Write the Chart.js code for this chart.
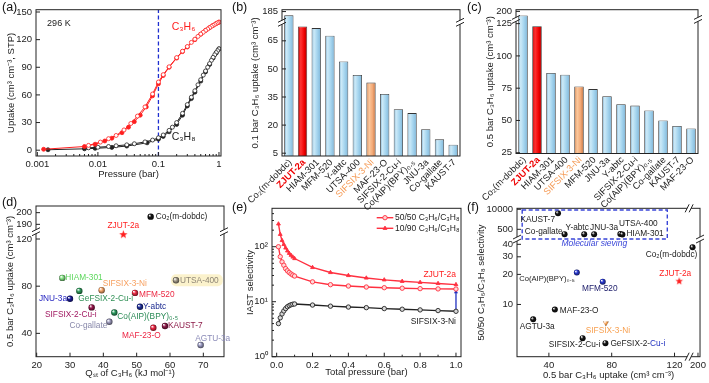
<!DOCTYPE html>
<html>
<head>
<meta charset="utf-8">
<script src="https://cdn.jsdelivr.net/npm/chart.js@4.4.1/dist/chart.umd.min.js"></script>
<style>
html, body { margin: 0; padding: 0; background: #fff; width: 709px; height: 383px; overflow: hidden; }
canvas { position: absolute; left: 0; top: 0; }
.tag { position: absolute; font: 12.5px 'Liberation Sans', Arial, sans-serif; color: #111; }
</style>
</head>
<body>
<canvas id="pa" width="709" height="383"></canvas>
<canvas id="pb" width="709" height="383"></canvas>
<canvas id="pc" width="709" height="383"></canvas>
<canvas id="pd" width="709" height="383"></canvas>
<canvas id="pe" width="709" height="383"></canvas>
<canvas id="pf" width="709" height="383"></canvas>
<div class="tag" style="left:2px;top:0px">(a)</div>
<div class="tag" style="left:232px;top:0px">(b)</div>
<div class="tag" style="left:467px;top:0px">(c)</div>
<div class="tag" style="left:2px;top:195px">(d)</div>
<div class="tag" style="left:232px;top:200px">(e)</div>
<div class="tag" style="left:467px;top:200px">(f)</div>
<script>
// (a) C3H6 / C3H8 isotherms, 296 K
const aAdsP6 = [0.00127,0.006,0.009,0.013,0.017,0.025,0.032,0.04,0.05,0.063,0.08,0.1,0.12,0.15,0.2,0.25,0.3,0.4,0.5,0.6,0.7,0.8,0.9,1.0];
const aAds6  = [1,4,6.5,10,13,19,25,31,38,47,59,72,81,90,100,107,112,120,126,130,133,135.5,137.5,139];
const aDesP6 = [1.0,0.95,0.9,0.85,0.8,0.75,0.7,0.65,0.6,0.55,0.5,0.45,0.4,0.35,0.3,0.25,0.2,0.15,0.12,0.1,0.08,0.06,0.045,0.035,0.027,0.02,0.015,0.011,0.007];
const aDes6  = [139,138.3,137.5,136.5,135.5,134.3,133,131.5,130,128,126,123.5,120.5,117,112.5,107.5,100.5,90.5,82,74,61,47,37,29,22,16,12.5,8.8,5.2];
const aAdsP8 = [0.0015,0.006,0.009,0.017,0.03,0.065,0.1,0.12,0.15,0.2,0.25,0.3,0.35,0.4,0.5,0.6,0.7,0.8,0.9,1.0];
const aAds8  = [0.5,1.5,2,3,4.5,8,12,15,20,28,38,48,56,63,75,85,93,100,105.5,110];
const aDesP8 = [1.0,0.95,0.9,0.85,0.8,0.75,0.7,0.65,0.6,0.55,0.5,0.45,0.4,0.35,0.3,0.25,0.2,0.17,0.15,0.12,0.1,0.08,0.06,0.04,0.03,0.02,0.015,0.01,0.007];
const aDes8  = [110,108,106,103.5,100.8,97.5,94,90,86,81.5,76.5,71,64.5,57.5,49.5,40,30,25,21.5,16.5,13.5,11,9,7,5.8,4.8,4,3.2,2.6];
const aXTicks = [0.001,0.01,0.1,1];
const aYTicks = [0,30,60,90,120,150];

// (b) 0.1 bar C3H6 uptake
const bNames = ['Co₂(m-dobdc)','ZJUT-2a','HIAM-301','MFM-520','Y-abtc','UTSA-400','SIFSIX-3-Ni','MAF-23-O','SIFSIX-2-Cu-i','Co(AIP)(BPY)₀.₅','JNU-3a','Co-gallate','KAUST-7'];
const bUptake = [183,72.7,71.8,67.7,54,46.8,42.7,36.6,28.5,26.4,17.8,12.4,9.5];
const bYTicks = [5,20,35,50,65,185];

// (c) 0.5 bar C3H6 uptake
const cNames = ['Co₂(m-dobdc)','ZJUT-2a','HIAM-301','UTSA-400','SIFSIX-3-Ni','MFM-520','JNU-3a','Y-abtc','SIFSIX-2-Cu-i','Co(AIP)(BPY)₀.₅','Co-gallate','KAUST-7','MAF-23-O'];
const cUptake = [196.8,123,86.8,85.5,76.3,74.3,68.8,62.5,61.5,57.8,50,45.8,43.8];
const cYTicks = [25,50,75,100,125,200];

// (d) Qst vs 0.5 bar uptake
const dNames = ['Co₂(m-dobdc)','ZJUT-2a','HIAM-301','UTSA-400','SIFSIX-3-Ni','GeFSIX-2-Cu-i','MFM-520','JNU-3a','Y-abtc','SIFSIX-2-Cu-i','Co(AIP)(BPY)₀.₅','Co-gallate','MAF-23-O','KAUST-7','AGTU-3a'];
const dQst    = [54.2,46,27.7,61.8,39.5,32.8,49.5,30,51,36.5,43.3,41.8,55,58.5,69.2];
const dUptake = [196.6,123.7,87,85,76.6,76,74.3,69.3,62.5,62,57.7,49.8,44.7,46.2,30.1];
const dXTicks = [20,30,40,50,60,70];
const dYTicks = [40,80,120,190,200];

// (e) IAST selectivity
const eP     = [0.01,0.02,0.03,0.04,0.05,0.06,0.07,0.08,0.09,0.1,0.2,0.3,0.4,0.5,0.6,0.7,0.8,0.9,1.0];
const eZ5050 = [100,66,53,46,40,36.5,34,32,30.5,29.3,23,20.4,19.3,18.5,18,17.6,17.3,17.1,17];
const eZ1090 = [260,168,130,110,95,84,76,70,65,61,42,34,30,27,25,23.5,22.5,21.5,20.5];
const eS5050 = [4.0,5.1,6.0,6.8,7.5,8.1,8.5,8.8,9.0,9.1,8.7,8.3,8.0,7.8,7.5,7.3,7.1,6.9,6.7];
const eXTicks = [0,0.2,0.4,0.6,0.8,1.0];
const eYTicks = [1,10,100];

// (f) 50/50 selectivity vs 0.5 bar uptake
const fNames  = ['KAUST-7','Co-gallate','Y-abtc','JNU-3a','UTSA-400','HIAM-301','Co₂(m-dobdc)','ZJUT-2a','Co(AIP)(BPY)₀.₅','MFM-520','MAF-23-O','AGTU-3a','SIFSIX-3-Ni','SIFSIX-2-Cu-i','GeFSIX-2-Cu-i'];
const fUptake = [45.8,50,62.5,68.8,85.5,86.8,196.5,123,57.8,74.3,43.8,30,76.3,61.5,76];
const fSel    = [5500,240,240,240,245,232,37.3,17.1,20.9,16.9,8.9,7.1,6.5,4.6,4.1];
const fXTicks = [40,80,120,200];
const fYTicks = [10,20,30,40,500,10000];

const W = 709, H = 383;
const FONT = "'Liberation Sans', Arial, sans-serif";
const RED = '#ff1f1f';
Chart.defaults.font.family = FONT;
Chart.defaults.font.size = 9.5;
Chart.defaults.color = '#222';
Chart.defaults.animation = false;
Chart.defaults.layout.autoPadding = false;
Chart.defaults.plugins.legend.display = false;
Chart.defaults.plugins.tooltip.enabled = false;

// piecewise axis for broken scales
class BrokenScale extends Chart.LinearScale {
  frac(v) {
    const s = this.options.segs, lg = this.options.logMap;
    const t = u => lg ? Math.log10(u) : u, x = t(v);
    for (let i = 1; i < s.length; i++) {
      const a = t(s[i-1][0]), b = t(s[i][0]);
      if (x <= b || i === s.length - 1) return s[i-1][1] + (x - a) / (b - a) * (s[i][1] - s[i-1][1]);
    }
  }
  getPixelForValue(v) { return this.getPixelForDecimal(this.frac(v)); }
}
BrokenScale.id = 'broken';
BrokenScale.defaults = Chart.LinearScale.defaults;
Chart.register(BrokenScale);

const setTicks = vals => s => { s.ticks = vals.map(v => ({value: v})); };
const lay = (l, t, r, b, yw, xh) => ({padding: {left: l - yw, top: t, right: W - r, bottom: H - b - xh}});
const pts = (xs, ys) => xs.map((x, i) => ({x, y: ys[i]}));

function axis(extra, fit, pad) {
  return Object.assign({grid: {display: false, drawTicks: false}, border: {display: false}, afterFit: fit,
    ticks: {padding: pad || 3, autoSkip: false, maxRotation: 0, callback: v => String(v)}}, extra);
}
function ttl(text) { return {display: true, text, padding: 0, font: {size: 9.5}, color: '#222'}; }

function shade(hex, k) {
  const n = parseInt(hex.slice(1), 16);
  return 'rgb(' + [(n >> 16) & 255, (n >> 8) & 255, n & 255].map(c => Math.round(c * k)).join(',') + ')';
}

// 3D ball look for scatter points
const sphere = (cols, r) => c => {
  const col = cols[c.dataIndex];
  const ch = c.chart;
  if (!c.parsed || !ch.chartArea) return col;
  const x = ch.scales.x.getPixelForValue(c.parsed.x), y = ch.scales.y.getPixelForValue(c.parsed.y);
  const g = ch.ctx.createRadialGradient(x - r * 0.4, y - r * 0.45, 0.2, x, y, r);
  g.addColorStop(0, '#ffffff');
  g.addColorStop(0.45, col);
  g.addColorStop(1, shade(col, 0.45));
  return g;
};

function star(col, r) {
  const cv = document.createElement('canvas');
  cv.width = cv.height = Math.ceil(2 * r + 2);
  const g = cv.getContext('2d'), m = cv.width / 2;
  g.beginPath();
  for (let i = 0; i < 10; i++) {
    const rr = i % 2 ? r * 0.42 : r, an = -Math.PI / 2 + i * Math.PI / 5;
    g.lineTo(m + rr * Math.cos(an), m + rr * Math.sin(an));
  }
  g.closePath(); g.fillStyle = col; g.fill();
  return cv;
}

function brk(ctx, x, y, vert) {
  ctx.fillStyle = '#fff';
  if (vert) ctx.fillRect(x - 2, y - 1.5, 4, 3); else ctx.fillRect(x - 1.5, y - 2, 3, 4);
  ctx.beginPath();
  for (const k of [-2, 2]) {
    if (vert) { ctx.moveTo(x + k - 2, y + 4); ctx.lineTo(x + k + 2, y - 4); }
    else { ctx.moveTo(x - 4, y + k + 2); ctx.lineTo(x + 4, y + k - 2); }
  }
  ctx.strokeStyle = '#222'; ctx.lineWidth = 1; ctx.stroke();
}

// box, inward ticks and axis breaks
function frame(o) {
  return { id: 'frame', afterDatasetsDraw(ch) {
    const ctx = ch.ctx, a = ch.chartArea, xs = ch.scales.x, ys = ch.scales.y;
    ctx.save();
    ctx.strokeStyle = '#222'; ctx.lineWidth = 1;
    ctx.strokeRect(a.left, a.top, a.right - a.left, a.bottom - a.top);
    ctx.beginPath();
    if (!o.noX) {
      xs.ticks.forEach(t => { const p = xs.getPixelForValue(t.value); ctx.moveTo(p, a.bottom); ctx.lineTo(p, a.bottom - 4); });
      (o.minorX || []).forEach(v => { const p = xs.getPixelForValue(v); ctx.moveTo(p, a.bottom); ctx.lineTo(p, a.bottom - 2); });
    }
    ys.ticks.forEach(t => { const p = ys.getPixelForValue(t.value); ctx.moveTo(a.left, p); ctx.lineTo(a.left + 4, p); });
    (o.minorY || []).forEach(v => { const p = ys.getPixelForValue(v); ctx.moveTo(a.left, p); ctx.lineTo(a.left + 2, p); });
    ctx.stroke();
    if (o.yBreak != null) { const p = ys.getPixelForDecimal(o.yBreak); brk(ctx, a.left, p, false); brk(ctx, a.right, p, false); }
    if (o.xBreak != null) { const p = xs.getPixelForDecimal(o.xBreak); brk(ctx, p, a.bottom, true); brk(ctx, p, a.top, true); }
    ctx.restore();
  }};
}

// text placed in data coordinates
function notes(list) {
  return { id: 'notes', afterDatasetsDraw(ch) {
    const ctx = ch.ctx;
    ctx.save(); ctx.textBaseline = 'middle';
    list.forEach(n => {
      ctx.font = n.f || ('8.5px ' + FONT);
      ctx.fillStyle = n.c || '#222'; ctx.textAlign = n.a || 'left';
      ctx.fillText(n.t, ch.scales.x.getPixelForValue(n.x), ch.scales.y.getPixelForValue(n.y));
    });
    ctx.restore();
  }};
}

// names next to scatter points
function pointLabels(names, offs, cols) {
  return { id: 'plabels',
    beforeDatasetsDraw(ch) {
      const ctx = ch.ctx, els = ch.getDatasetMeta(0).data;
      ctx.save(); ctx.font = '8.3px ' + FONT;
      offs.forEach((o, i) => {
        if (!o[3] || !o[3].hl) return;
        const p = els[i], w = ctx.measureText(names[i]).width;
        ctx.fillStyle = 'rgba(250,240,195,0.85)';
        ctx.beginPath(); ctx.roundRect(p.x - 5, p.y - 6, w + o[0] + 9, 12, 5); ctx.fill();
      });
      ctx.restore();
    },
    afterDatasetsDraw(ch) {
      const ctx = ch.ctx, els = ch.getDatasetMeta(0).data;
      ctx.save(); ctx.textBaseline = 'middle';
      els.forEach((p, i) => {
        const [dx, dy, al, ex] = offs[i], x = p.x + dx, y = p.y + dy, t = names[i];
        ctx.font = ((ex && ex.fs) || 8.3) + 'px ' + FONT;
        ctx.fillStyle = cols[i]; ctx.textAlign = al;
        if (ex && ex.tail) {
          const head = t.slice(0, t.length - ex.tail);
          ctx.textAlign = 'left'; ctx.fillText(head, x, y);
          ctx.fillStyle = ex.tc; ctx.fillText(t.slice(-ex.tail), x + ctx.measureText(head).width, y);
        } else ctx.fillText(t, x, y);
      });
      ctx.restore();
    }};
}

function minorLog(lo, hi) {
  const out = [];
  for (let e = Math.floor(Math.log10(lo)); e <= Math.ceil(Math.log10(hi)); e++)
    for (let k = 2; k <= 9; k++) { const v = k * Math.pow(10, e); if (v > lo && v < hi) out.push(v); }
  return out;
}

// ---------- (a) ----------
function iso(xs, ys, col, filled) {
  return {data: pts(xs, ys), showLine: true, borderColor: col, borderWidth: 1,
    pointRadius: 2, pointBorderWidth: 0.8, pointBorderColor: col,
    pointBackgroundColor: filled ? col : '#fff'};
}
const aMin = -6.3, aMax = 152.5;
new Chart(document.getElementById('pa'), {
  type: 'scatter',
  data: {datasets: [
    iso(aDesP6, aDes6, RED, false), iso(aAdsP6, aAds6, RED, true),
    iso(aDesP8, aDes8, '#222', false), iso(aAdsP8, aAds8, '#222', true),
    {data: [{x: 0.1, y: aMin}, {x: 0.1, y: aMax}], showLine: true, borderColor: '#1f2fd0',
     borderWidth: 1.3, borderDash: [4, 2.5], pointRadius: 0}
  ]},
  options: {
    responsive: false,
    layout: lay(36, 5, 221, 156, 30.7, 24),
    scales: {
      x: axis({type: 'logarithmic', min: 0.00095, max: 1.08, afterBuildTicks: setTicks(aXTicks), title: ttl('Pressure (bar)')}, s => { s.height = 24; }),
      y: axis({type: 'linear', min: aMin, max: aMax, afterBuildTicks: setTicks(aYTicks), title: ttl('Uptake (cm³ cm⁻³, STP)')}, s => { s.width = 30.7; }, 4)
    }
  },
  plugins: [frame({minorX: minorLog(0.00095, 1.08)}), notes([
    {x: 0.00145, y: 137.4, t: '296 K', f: '9px ' + FONT},
    {x: 0.166, y: 134, t: 'C₃H₆', c: RED, f: '10.5px ' + FONT},
    {x: 0.166, y: 14, t: 'C₃H₈', f: '10.5px ' + FONT}
  ])]
});

// ---------- (b), (c) bars ----------
const FILLS = {
  blue: [[0, '#79acce'], [0.25, '#cdeaf8'], [0.55, '#abd8f0'], [0.85, '#8dc2e2'], [1, '#5a8cae']],
  red: [[0, '#b80000'], [0.3, '#ff3434'], [0.7, '#ee0000'], [1, '#a00000']],
  orange: [[0, '#d0804c'], [0.3, '#fbc99e'], [0.7, '#f2a673'], [1, '#b86a3a']]
};
const kindOf = n => n === 'ZJUT-2a' ? 'red' : (n === 'SIFSIX-3-Ni' ? 'orange' : 'blue');
const barFill = c => {
  const ch = c.chart, xs = ch.scales.x;
  const name = ch.data.labels[c.dataIndex];
  if (!ch.chartArea || c.dataIndex === undefined) return '#abd8f0';
  const w = xs.width / ch.data.labels.length * 0.68, xc = xs.getPixelForValue(c.dataIndex);
  const g = ch.ctx.createLinearGradient(xc - w / 2, 0, xc + w / 2, 0);
  FILLS[kindOf(name)].forEach(s => g.addColorStop(s[0], s[1]));
  return g;
};
// rotated category names under the bars
const catLabels = { id: 'cat', afterDraw(ch) {
  const ctx = ch.ctx, xs = ch.scales.x, b = ch.chartArea.bottom;
  ch.data.labels.forEach((l, i) => {
    ctx.save();
    ctx.translate(xs.getPixelForValue(i) + 1.5, b + 5);
    ctx.rotate(-Math.PI / 4);
    ctx.textAlign = 'right'; ctx.textBaseline = 'middle';
    ctx.font = (l === 'ZJUT-2a' ? 'bold ' : '') + '9.3px ' + FONT;
    ctx.fillStyle = l === 'ZJUT-2a' ? '#ee0000' : (l === 'SIFSIX-3-Ni' ? '#f59a55' : '#222');
    ctx.fillText(l, 0, 0);
    ctx.restore();
  });
}};

function bars(id, names, vals, segs, ticks, yBreak, title, box) {
  new Chart(document.getElementById(id), {
    type: 'bar',
    data: {labels: names, datasets: [{data: vals, backgroundColor: barFill, borderColor: '#333',
      borderWidth: 0.8, barPercentage: 0.68, categoryPercentage: 1}]},
    options: {
      responsive: false,
      layout: lay(...box),
      scales: {
        x: axis({ticks: {display: false}}, s => { s.height = box[5]; }),
        y: axis({type: 'broken', segs, min: segs[0][0], max: segs[segs.length - 1][0],
          afterBuildTicks: setTicks(ticks), title: ttl(title)}, s => { s.width = box[4]; }, 4)
      }
    },
    plugins: [frame({noX: true, yBreak}), catLabels]
  });
}
bars('pb', bNames, bUptake, [[3.5, 0], [74.9, 0.914], [179.3, 0.914], [186, 1]], bYTicks, 0.914,
  '0.1 bar C₃H₆ uptake (cm³ cm⁻³)', [282, 5, 460, 156, 32.7, 2]);
bars('pc', cNames, cUptake, [[24.4, 0], [128.3, 0.9327], [193.8, 0.9327], [201.3, 1]], cYTicks, 0.9327,
  '0.5 bar C₃H₆ uptake (cm³ cm⁻³)', [516, 5, 698, 153.5, 31.7, 2]);

// ---------- (d) ----------
const dDot = ['#151515', RED, '#86e486', '#a39a88', '#f7a468', '#2f9a5c', '#ec2a44', '#1c1c96', '#20309a', '#98174c', '#2c9c60', '#9c9abc', '#ec2442', '#8c1a48', '#9c9cc4'];
const dTxt = ['#222', RED, '#5ed85e', '#8f8676', '#f7a060', '#2f9055', '#ec2a44', '#2424c0', '#1c2a90', '#a01860', '#2a8a55', '#8888aa', '#ec2442', '#8c1a48', '#8c8cb8'];
const dOff = [[5, 0, 'left'], [0, -9, 'center'], [3, 0, 'left'], [4, 0, 'left', {hl: true}], [1, -6, 'left'],
  [-1, 8, 'left'], [4, 2, 'left'], [-3, 0, 'right'], [3, 0, 'left'], [5, 7, 'right'], [3, 4, 'left'],
  [-2, 4, 'right'], [-12, 8, 'center'], [3, 0, 'left'], [12, -6, 'center']];
const starD = star(RED, 4.4);
new Chart(document.getElementById('pd'), {
  type: 'scatter',
  data: {datasets: [{data: pts(dQst, dUptake),
    pointStyle: dNames.map(n => n === 'ZJUT-2a' ? starD : 'circle'),
    pointRadius: 3.2, pointBorderWidth: 0, pointBackgroundColor: sphere(dDot, 3.2)}]},
  options: {
    responsive: false,
    layout: lay(36, 206, 224, 356.7, 31.7, 22.3),
    scales: {
      x: axis({type: 'linear', min: 19.8, max: 76.2, afterBuildTicks: setTicks(dXTicks), title: ttl('Qₛₜ of C₃H₆ (kJ mol⁻¹)')}, s => { s.height = 22.3; }),
      y: axis({type: 'broken', segs: [[20.2, 0], [126.2, 0.8295], [183.7, 0.8295], [205.7, 1]], min: 20.2, max: 205.7,
        afterBuildTicks: setTicks(dYTicks), title: ttl('0.5 bar C₃H₆ uptake (cm³ cm⁻³)')}, s => { s.width = 31.7; }, 4)
    }
  },
  plugins: [frame({yBreak: 0.8295}), pointLabels(dNames, dOff, dTxt)]
});

// ---------- (e) ----------
function sel(ys, col, style, fill) {
  return {data: pts(eP, ys), showLine: true, borderColor: col, borderWidth: 1.4,
    pointStyle: style, pointRadius: 2.2, pointBorderWidth: 0.9, pointBorderColor: col, pointBackgroundColor: fill};
}
const eLegend = { id: 'eleg', afterDatasetsDraw(ch) {
  const ctx = ch.ctx, a = ch.chartArea;
  const rows = [['50/50 C₃H₆/C₃H₈', 'circle', '#ffd0d0'], ['10/90 C₃H₆/C₃H₈', 'triangle', '#ff3040']];
  ctx.save();
  rows.forEach((r, i) => {
    const y = a.top + 9.4 + i * 10.6, x0 = a.right - 84.3;
    ctx.strokeStyle = '#ff3040'; ctx.lineWidth = 1.4;
    ctx.beginPath(); ctx.moveTo(x0, y); ctx.lineTo(x0 + 16.6, y); ctx.stroke();
    ctx.fillStyle = r[2]; ctx.lineWidth = 0.9;
    Chart.helpers.drawPoint(ctx, {pointStyle: r[1], radius: 2.2, borderWidth: 0.9, rotation: 0}, x0 + 8.3, y);
    ctx.fillStyle = '#222'; ctx.font = '8.5px ' + FONT; ctx.textBaseline = 'middle'; ctx.textAlign = 'left';
    ctx.fillText(r[0], x0 + 18.3, y);
  });
  ctx.restore();
}};
new Chart(document.getElementById('pe'), {
  type: 'scatter',
  data: {datasets: [
    sel(eZ1090, '#ff3040', 'triangle', '#ff3040'),
    sel(eZ5050, '#ff3040', 'circle', '#ffd8d8'),
    sel(eS5050, '#222', 'circle', '#d8d8d8'),
    {data: [{x: 1, y: eS5050[eS5050.length - 1]}, {x: 1, y: 15}], showLine: true, borderColor: '#2030c0',
     borderWidth: 1.3, pointStyle: 'triangle', rotation: [180, 0], pointRadius: 2.4, pointBackgroundColor: '#2030c0', pointBorderWidth: 0}
  ]},
  options: {
    responsive: false,
    layout: lay(272, 208.3, 461, 356.7, 27.7, 21.7),
    scales: {
      x: axis({type: 'linear', min: -0.026, max: 1.028, afterBuildTicks: setTicks(eXTicks),
        ticks: {padding: 3, maxRotation: 0, autoSkip: false, callback: v => v.toFixed(1)}, title: ttl('Total pressure (bar)')}, s => { s.height = 21.7; }),
      y: axis({type: 'logarithmic', min: 1, max: 500, afterBuildTicks: setTicks(eYTicks),
        ticks: {padding: 4, autoSkip: false, callback: v => ({1: '10⁰', 10: '10¹', 100: '10²'})[v] || ''}, title: ttl('IAST selectivity')}, s => { s.width = 27.7; })
    }
  },
  plugins: [frame({minorX: [0.1, 0.3, 0.5, 0.7, 0.9], minorY: minorLog(1, 500)}), eLegend, notes([
    {x: 1.0, y: 30.6, t: 'ZJUT-2a', c: RED, a: 'right'},
    {x: 1.0, y: 4.33, t: 'SIFSIX-3-Ni', a: 'right'}
  ])]
});

// ---------- (f) ----------
const BLK = '#151515', BLU = '#2a3ad0', ORG = '#f8a050';
const fDot = [BLK, BLK, BLK, BLK, BLK, BLK, BLK, RED, BLU, BLU, BLK, BLK, ORG, BLK, BLK];
const fTxt = ['#222', '#222', '#222', '#222', '#222', '#222', '#222', RED, '#222', '#23236e', '#222', '#222', ORG, '#222', '#222'];
const fOff = [[-3, 6, 'right'], [-2, -3, 'right'], [-7, -7, 'center'], [10, -7, 'center'], [18, -10, 'center'],
  [4, -1, 'left'], [-21, 7, 'center'], [-4, -7, 'center'], [-2, 6, 'right', {fs: 7.6}], [-3, 7, 'center'],
  [5, 1, 'left'], [4, 7, 'center'], [2, 8, 'center'], [-8, 7, 'center'], [5, 1, 'left', {tail: 4, tc: '#2030c0'}]];
const starF = star(RED, 4);
const fBox = { id: 'fbox', afterDatasetsDraw(ch) {
  const ctx = ch.ctx, xs = ch.scales.x, ys = ch.scales.y;
  const x0 = xs.getPixelForValue(23), x1 = xs.getPixelForValue(115.4);
  const y0 = ys.getPixelForValue(9000), y1 = ys.getPixelForValue(118);
  ctx.save(); ctx.strokeStyle = '#3a46d8'; ctx.lineWidth = 1.4; ctx.setLineDash([4, 2.5]);
  ctx.strokeRect(x0, y0, x1 - x0, y1 - y0); ctx.restore();
}};
new Chart(document.getElementById('pf'), {
  type: 'scatter',
  data: {datasets: [{data: pts(fUptake, fSel),
    pointStyle: fNames.map(n => n === 'ZJUT-2a' ? starF : (n === 'SIFSIX-3-Ni' ? 'triangle' : 'circle')),
    rotation: fNames.map(n => n === 'SIFSIX-3-Ni' ? 180 : 0),
    pointRadius: fNames.map(n => n === 'SIFSIX-3-Ni' ? 3.4 : 3), pointBorderWidth: 0,
    pointBackgroundColor: sphere(fDot, 3)}]},
  options: {
    responsive: false,
    layout: lay(517, 208.3, 702, 356.7, 41.7, 24),
    scales: {
      x: axis({type: 'broken', segs: [[19.7, 0], [129.3, 0.9405], [194.3, 0.9405], [201.3, 1]], min: 19.7, max: 201.3,
        afterBuildTicks: setTicks(fXTicks), title: ttl('0.5 bar C₃H₆ uptake (cm³ cm⁻³)')}, s => { s.height = 24; }),
      y: axis({type: 'broken', logMap: true, segs: [[3, 0], [45.2, 0.793], [117, 0.793], [11600, 1]], min: 3, max: 11600,
        afterBuildTicks: setTicks(fYTicks), title: ttl('50/50 C₃H₆/C₃H₈ selectivity')}, s => { s.width = 41.7; }, 4)
    }
  },
  plugins: [fBox, frame({xBreak: 0.9405, yBreak: 0.793}), pointLabels(fNames, fOff, fTxt), notes([
    {x: 68.9, y: 40.3, t: 'Molecular sieving', c: '#3a46d8', a: 'center', f: 'italic 8.5px ' + FONT}
  ])]
});
</script>
</body>
</html>
